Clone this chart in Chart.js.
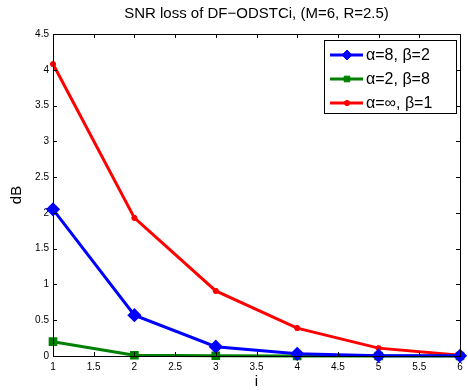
<!DOCTYPE html>
<html>
<head>
<meta charset="utf-8">
<script src="https://cdn.jsdelivr.net/npm/chart.js@4/dist/chart.umd.min.js"></script>
<style>
  html, body { margin: 0; padding: 0; background: #fff; }
  #wrap { width: 468px; height: 390px; }
</style>
</head>
<body>
<div id="wrap"><canvas id="c"></canvas></div>
<script>
// i values and SNR loss (dB)
const xValues = [1, 2, 3, 4, 5, 6];
const lossA8B2 = [2.05, 0.57, 0.13, 0.03, 0.005, 0.002];
const lossA2B8 = [0.20, 0.01, 0.003, 0.001, 0.0, 0.0];
const lossAinfB1 = [4.08, 1.93, 0.91, 0.39, 0.11, 0.01];
const seriesLabels = ['α=8, β=2', 'α=2, β=8', 'α=∞, β=1'];
const xTicks = [1, 1.5, 2, 2.5, 3, 3.5, 4, 4.5, 5, 5.5, 6];
const yTicks = [0, 0.5, 1, 1.5, 2, 2.5, 3, 3.5, 4, 4.5];

const FONT = 'Liberation Sans, Arial, Helvetica, sans-serif';

function toPoints(ys) {
    return xValues.map((x, i) => ({ x: x, y: ys[i] }));
}

// Frame, inward ticks, title, axis labels and boxed legend
const matlabFrame = {
    id: 'matlabFrame',
    afterDraw(chart) {
        const ctx = chart.ctx;
        const a = chart.chartArea;
        const xs = chart.scales.x, ys = chart.scales.y;
        ctx.save();
        ctx.strokeStyle = '#000';
        ctx.lineWidth = 1;
        ctx.strokeRect(a.left + 0.5, a.top + 0.5, a.right - a.left, a.bottom - a.top);
        ctx.beginPath();
        xTicks.forEach(t => {
            const px = Math.round(xs.getPixelForValue(t)) + 0.5;
            ctx.moveTo(px, a.bottom); ctx.lineTo(px, a.bottom - 4);
            ctx.moveTo(px, a.top); ctx.lineTo(px, a.top + 4);
        });
        yTicks.forEach(t => {
            const py = Math.round(ys.getPixelForValue(t)) + 0.5;
            ctx.moveTo(a.left, py); ctx.lineTo(a.left + 4, py);
            ctx.moveTo(a.right, py); ctx.lineTo(a.right - 4, py);
        });
        ctx.stroke();

        // title
        ctx.fillStyle = '#000';
        ctx.font = '15px ' + FONT;
        ctx.textAlign = 'center';
        ctx.textBaseline = 'middle';
        ctx.fillText('SNR loss of DF\u2212ODSTCi, (M=6, R=2.5)', (a.left + a.right) / 2, 14);

        // axis labels
        ctx.fillText('i', (a.left + a.right) / 2, 382);
        ctx.save();
        ctx.translate(17, (a.top + a.bottom) / 2);
        ctx.rotate(-Math.PI / 2);
        ctx.fillText('dB', 0, 0);
        ctx.restore();

        // legend
        const lw = 132, lh = 73;
        const lx = a.right - 4 - lw, ly = 40;
        ctx.fillStyle = '#fff';
        ctx.fillRect(lx, ly, lw, lh);
        ctx.lineWidth = 1;
        ctx.strokeRect(lx + 0.5, ly + 0.5, lw, lh);
        ctx.font = '16px ' + FONT;
        ctx.textAlign = 'left';
        chart.data.datasets.forEach((ds, i) => {
            const cy = ly + 15 + i * 24;
            ctx.strokeStyle = ds.borderColor;
            ctx.lineWidth = 3;
            ctx.beginPath();
            ctx.moveTo(lx + 6, cy); ctx.lineTo(lx + 39, cy);
            ctx.stroke();
            ctx.lineWidth = ds.pointBorderWidth || 1;
            ctx.fillStyle = ds.pointBackgroundColor;
            Chart.helpers.drawPoint(ctx, {
                pointStyle: ds.pointStyle, radius: ds.pointRadius, rotation: 0,
                borderWidth: ds.pointBorderWidth || 1
            }, lx + 23, cy);
            ctx.fillStyle = '#000';
            ctx.fillText(ds.label, lx + 42, cy + 1);
        });
        ctx.restore();
    }
};

const ctx = document.getElementById('c');
new Chart(ctx, {
    type: 'line',
    data: {
        datasets: [
            {
                label: seriesLabels[0], data: toPoints(lossA8B2),
                borderColor: '#0000ff', backgroundColor: '#0000ff',
                pointBackgroundColor: '#0000ff', pointStyle: 'rectRot',
                pointRadius: 5, borderWidth: 3
            },
            {
                label: seriesLabels[1], data: toPoints(lossA2B8),
                borderColor: '#008000', backgroundColor: '#008000',
                pointBackgroundColor: '#008000', pointStyle: 'rect',
                pointRadius: 4, borderWidth: 3
            },
            {
                label: seriesLabels[2], data: toPoints(lossAinfB1),
                borderColor: '#ff0000', backgroundColor: '#ff0000',
                pointBackgroundColor: '#ff0000', pointStyle: 'star',
                pointRadius: 3, pointBorderWidth: 2, borderWidth: 3
            }
        ]
    },
    options: {
        responsive: true,
        maintainAspectRatio: false,
        animation: false,
        clip: false,
        layout: { padding: { top: 34, right: 0, left: 0, bottom: 0 } },
        plugins: {
            legend: { display: false },
            title: { display: false },
            tooltip: { enabled: false }
        },
        scales: {
            x: {
                type: 'linear', min: 1, max: 6,
                afterBuildTicks: s => { s.ticks = xTicks.map(v => ({ value: v })); },
                afterFit: s => { s.height = 34; },
                grid: { display: false, drawTicks: false },
                border: { display: false },
                ticks: {
                    color: '#000', font: { size: 10, family: FONT }, padding: 5,
                    maxRotation: 0, autoSkip: false, callback: v => String(v)
                }
            },
            y: {
                min: 0, max: 4.5,
                afterBuildTicks: s => { s.ticks = yTicks.map(v => ({ value: v })); },
                afterFit: s => { s.width = 53; },
                grid: { display: false, drawTicks: false },
                border: { display: false },
                ticks: {
                    color: '#000', font: { size: 10, family: FONT }, padding: 4,
                    autoSkip: false, callback: v => String(v)
                }
            }
        }
    },
    plugins: [matlabFrame]
});
</script>
</body>
</html>
